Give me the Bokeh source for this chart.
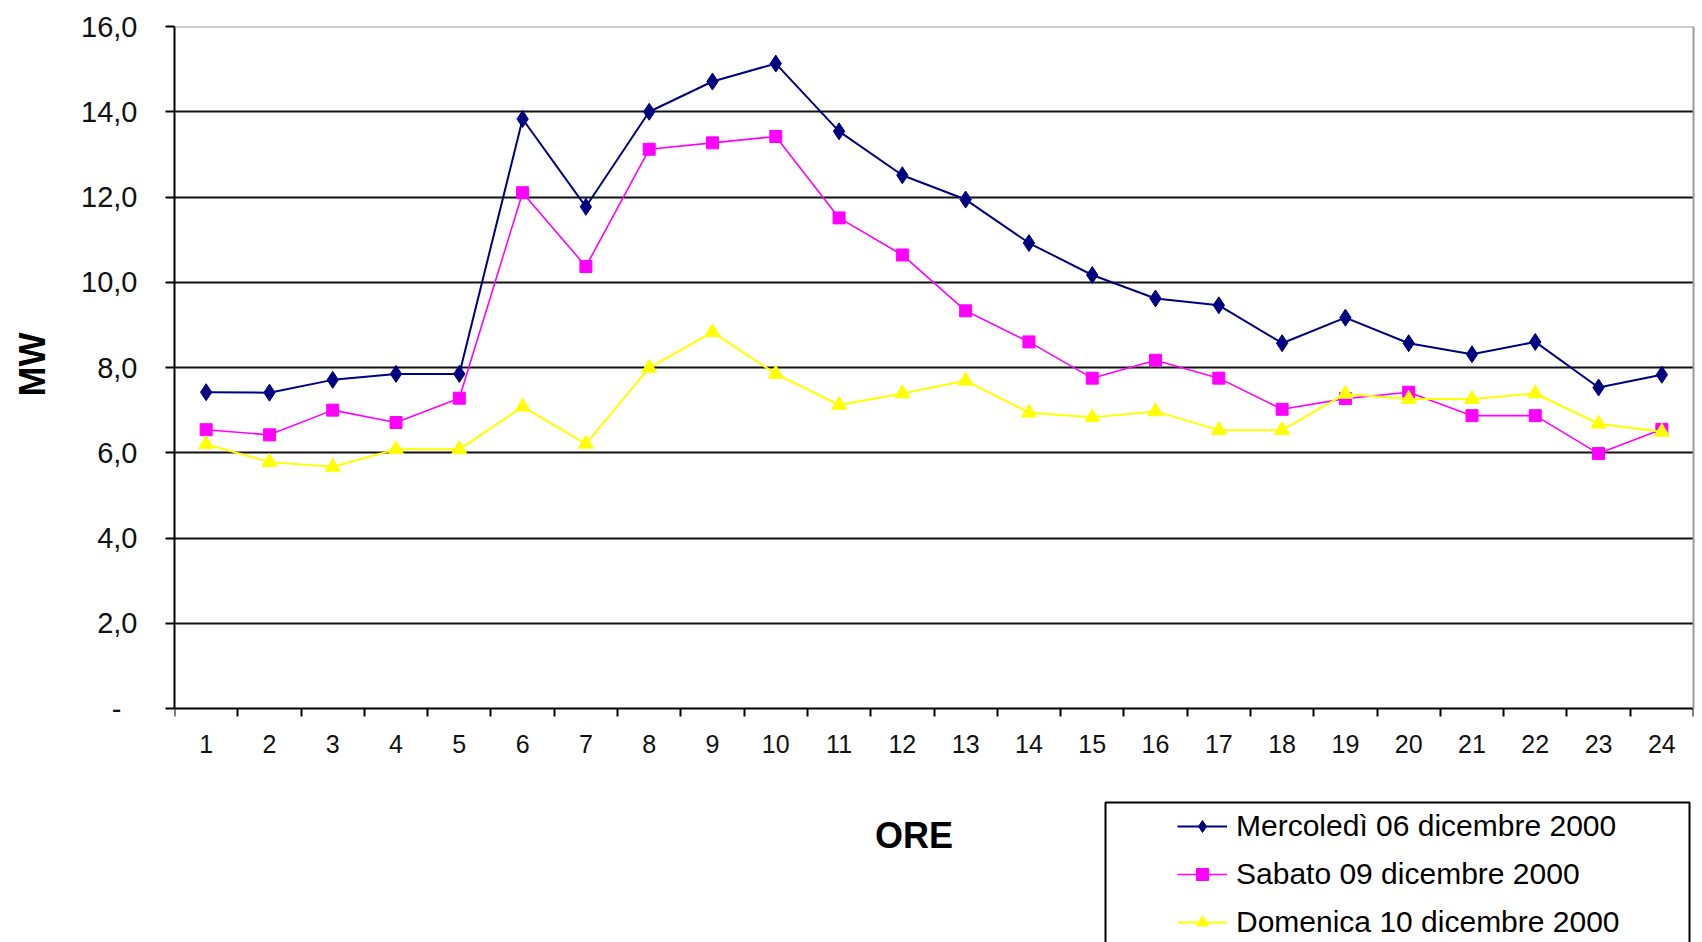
from bokeh.plotting import figure
from bokeh.models import (FixedTicker, Legend, LegendItem, BoxAnnotation, Range1d, LinearAxis, Span)
from bokeh.embed import file_html
from bokeh.resources import INLINE

# ---- data ----
ore = list(range(1, 25))
mercoledi = [7.42, 7.41, 7.71, 7.85, 7.85, 13.83, 11.77, 14.0, 14.71, 15.13, 13.54, 12.51,
             11.94, 10.92, 10.17, 9.62, 9.46, 8.57, 9.17, 8.57, 8.31, 8.6, 7.53, 7.83]
sabato = [6.54, 6.42, 7.0, 6.71, 7.28, 12.1, 10.37, 13.12, 13.27, 13.42, 11.51, 10.64,
          9.33, 8.6, 7.75, 8.17, 7.75, 7.02, 7.27, 7.42, 6.87, 6.87, 5.98, 6.55]
domenica = [6.2, 5.78, 5.67, 6.08, 6.08, 7.08, 6.21, 7.99, 8.83, 7.85, 7.12, 7.39,
            7.69, 6.94, 6.83, 6.97, 6.53, 6.53, 7.38, 7.26, 7.26, 7.39, 6.68, 6.49]
series_labels = ["Mercoledì 06 dicembre 2000", "Sabato 09 dicembre 2000", "Domenica 10 dicembre 2000"]
y_ticks = [0, 2, 4, 6, 8, 10, 12, 14, 16]
y_tick_labels = ["-\u00a0\u00a0", "2,0", "4,0", "6,0", "8,0", "10,0", "12,0", "14,0", "16,0"]

FONT = "Liberation Sans"
NB = "\u00a0"

# layout (pixels)
W, H = 1702, 942
TOP, LEFT, RIGHT = 26, 174, 9
AXIS_Y = 708                      # screen y of value 0
px_per_unit = (AXIS_Y - TOP) / 16.0
y_start = -(H - AXIS_Y) / px_per_unit

p = figure(width=W, height=H, output_backend="svg", toolbar_location=None,
           x_range=Range1d(0.5, 24.5), y_range=Range1d(y_start, 16),
           min_border_left=LEFT, min_border_right=RIGHT, min_border_top=TOP, min_border_bottom=0)
p.background_fill_color = "white"
p.border_fill_color = "white"
p.outline_line_color = None

# grid
p.xgrid.grid_line_color = None
p.ygrid.grid_line_color = "#111111"
p.ygrid.grid_line_width = 2
p.ygrid.ticker = FixedTicker(ticks=y_ticks[1:-1])

# top border (gray) and right border (gray)
p.add_layout(Span(location=16, dimension="width", line_color="#9a9a9a", line_width=2))
ra = LinearAxis(ticker=FixedTicker(ticks=[]), bounds=(0, 16), axis_line_color="#9a9a9a",
                axis_line_width=2, major_tick_line_color=None, minor_tick_line_color=None,
                major_label_text_font_size="0px")
p.add_layout(ra, "right")

# y axis
ya = p.yaxis[0]
ya.bounds = (0, 16)
ya.ticker = FixedTicker(ticks=y_ticks)
ya.major_label_overrides = {t: l for t, l in zip(y_ticks, y_tick_labels)}
ya.major_label_text_font = FONT
ya.major_label_text_font_size = "29px"
ya.major_label_text_color = "#111111"
ya.major_label_standoff = 28
ya.major_tick_in = 0
ya.major_tick_out = 9
ya.major_tick_line_width = 2
ya.major_tick_line_color = "black"
ya.minor_tick_line_color = None
ya.axis_line_color = "black"
ya.axis_line_width = 2
ya.axis_label = NB * 24 + "MW"
ya.axis_label_text_font = FONT
ya.axis_label_text_font_style = "bold"
ya.axis_label_text_font_size = "36px"
ya.axis_label_text_color = "black"
ya.axis_label_standoff = 25

# x axis, fixed at value 0
xa = p.xaxis[0]
xa.fixed_location = 0
xa.ticker = FixedTicker(ticks=ore, minor_ticks=[i + 0.5 for i in range(0, 25)])
xa.major_label_text_font = FONT
xa.major_label_text_font_size = "25px"
xa.major_label_text_color = "#111111"
xa.major_label_standoff = 18
xa.major_tick_in = 0
xa.major_tick_out = 0
xa.minor_tick_in = 0
xa.minor_tick_out = 8
xa.minor_tick_line_width = 2
xa.minor_tick_line_color = "black"
xa.axis_line_color = "black"
xa.axis_line_width = 2
xa.axis_label = "ORE" + NB * 4
xa.axis_label_text_font = FONT
xa.axis_label_text_font_style = "bold"
xa.axis_label_text_font_size = "36px"
xa.axis_label_text_color = "black"
xa.axis_label_standoff = 59

# series
l1 = p.line(ore, mercoledi, line_color="#000080", line_width=2)
s1 = p.scatter(ore, mercoledi, marker="diamond", size=17, fill_color="#000080", line_color="#000080")
l2 = p.line(ore, sabato, line_color="#FF00FF", line_width=1.6)
s2 = p.scatter(ore, sabato, marker="square", size=12, fill_color="#FF00FF", line_color="#FF00FF")
l3 = p.line(ore, domenica, line_color="#FFFF00", line_width=2)
s3 = p.scatter(ore, domenica, marker="triangle", size=15, fill_color="#FFFF00", line_color="#FFFF00")

# legend (inside the extended frame, below the x axis)
LEG_TOP, LEG_BOTTOM = 802, 939
legend = Legend(items=[LegendItem(label=series_labels[0], renderers=[l1, s1]),
                       LegendItem(label=series_labels[1], renderers=[l2, s2]),
                       LegendItem(label=series_labels[2], renderers=[l3, s3])],
                location=(1177 - LEFT, H - LEG_BOTTOM), orientation="vertical",
                padding=12, spacing=14, glyph_width=50, glyph_height=30,
                label_height=30, label_standoff=9, margin=0,
                label_text_font=FONT, label_text_font_size="30px", label_text_color="black",
                border_line_color=None, background_fill_color=None)
p.add_layout(legend, "center")

box = BoxAnnotation(left=1105 - LEFT, right=1689 - LEFT, top=H - LEG_TOP, bottom=-20,
                    left_units="screen", right_units="screen", top_units="screen", bottom_units="screen",
                    fill_alpha=0, fill_color=None, line_color="black", line_width=2, line_alpha=1)
p.add_layout(box)

open("out.html", "w").write(file_html(p, INLINE))
